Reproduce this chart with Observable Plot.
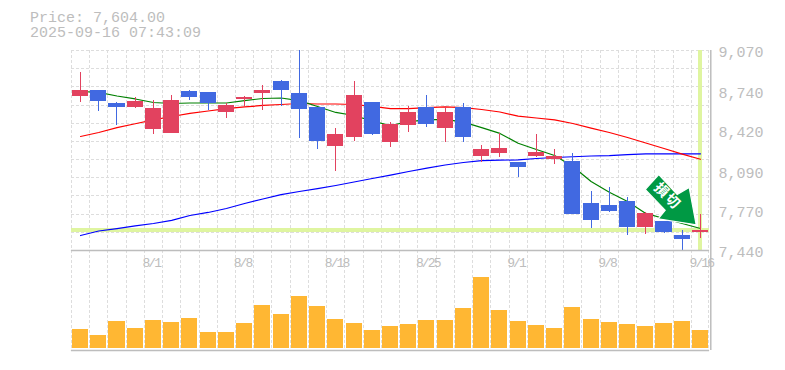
<!DOCTYPE html>
<html lang="ja">
<head>
<meta charset="utf-8">
<script src="https://cdn.jsdelivr.net/npm/d3@7"></script>
<script src="https://cdn.jsdelivr.net/npm/@observablehq/plot@0.6"></script>
<style>
  html, body { margin: 0; padding: 0; background: #fff; }
  #wrap { position: relative; width: 785px; height: 370px; overflow: hidden; }
  #title { position: absolute; left: 30px; top: 11px; font: 15px/15px "Liberation Mono", monospace; color: #bdbdbd; white-space: pre; }
  #price, #volume { position: absolute; left: 0; }
  #price { top: 0; }
  #volume { top: 240px; }
  svg { background: transparent !important; overflow: visible; }
  #price g[aria-label="text"] { letter-spacing: 1.5px; }
  #volume g[aria-label="text"] { letter-spacing: -1.9px; }
</style>
</head>
<body>
<div id="wrap">
  <div id="title"></div>
  <div id="price"></div>
  <div id="volume"></div>
</div>
<script>
const titleLines = ["Price: 7,604.00", "2025-09-16 07:43:09"];
const dates = ["7/28","7/29","7/30","7/31","8/1","8/4","8/5","8/6","8/7","8/8","8/12","8/13","8/14","8/15","8/18","8/19","8/20","8/21","8/22","8/25","8/26","8/27","8/28","8/29","9/1","9/2","9/3","9/4","9/5","9/8","9/9","9/10","9/11","9/12","9/16"];
const tickDates = ["8/1","8/8","8/18","8/25","9/1","9/8","9/16"];
const priceTicks = [7440,7770,8090,8420,8740,9070];

const open  = [8695,8744,8638,8605,8426,8394,8736,8728,8565,8671,8720,8817,8720,8605,8288,8361,8646,8320,8459,8605,8434,8605,8206,8231,8157,8206,8182,8165,7823,7807,7839,7627,7676,7562,7587];
const close = [8744,8654,8605,8654,8597,8662,8687,8638,8622,8687,8744,8744,8589,8328,8385,8703,8385,8467,8565,8467,8565,8361,8263,8271,8116,8239,8206,7733,7685,7758,7627,7742,7587,7530,7604];
const high  = [8891,8744,8646,8687,8662,8703,8744,8728,8638,8695,8785,8826,9070,8605,8434,8817,8646,8483,8614,8703,8614,8638,8296,8394,8157,8385,8263,8231,7921,7953,7872,7750,7676,7603,7733];
const low   = [8649,8573,8459,8597,8385,8394,8662,8581,8516,8614,8581,8614,8353,8263,8084,8328,8377,8279,8402,8442,8320,8320,8157,8198,8035,8198,8141,7733,7619,7750,7562,7570,7579,7440,7538];

const maShort = [8736,8728,8699,8675,8646,8638,8642,8642,8642,8662,8679,8683,8662,8614,8565,8540,8495,8459,8491,8504,8508,8486,8442,8394,8314,8263,8214,8125,8002,7915,7839,7742,7701,7660,7619];
const maMid   = [8369,8402,8442,8473,8504,8532,8557,8577,8597,8610,8622,8630,8638,8634,8634,8630,8614,8597,8597,8605,8610,8605,8589,8569,8535,8520,8504,8475,8438,8402,8361,8316,8271,8226,8184];
const maLong  = [7562,7599,7619,7640,7660,7685,7725,7750,7782,7823,7860,7896,7921,7945,7970,7998,8027,8055,8084,8112,8137,8157,8173,8176,8179,8190,8198,8204,8210,8214,8222,8228,8228,8228,8228];
const volume  = [1900,1300,2700,2000,2800,2600,3000,1600,1600,2500,4300,3400,5200,4200,2900,2500,1800,2200,2400,2800,2800,4000,7100,3800,2700,2300,2000,4100,2900,2600,2400,2200,2500,2700,1800];

const lastPrice = 7604;
const signalText = "損切";

const RED = "#e2425f", BLUE = "#4169e1", ORANGE = "#ffb733", GRID = "#dddddd", AXIS = "#bdbdbd", HILITE = "#dff5a0", ARROW = "#009944";
const MONO = '"Liberation Mono", monospace';

document.getElementById("title").textContent = titleLines.join("\n");

const xScale = {type: "band", domain: dates, paddingInner: 0.12, paddingOuter: 0.06, round: false, axis: null};
const margins = {width: 785, marginLeft: 70.9, marginRight: 75.9};
const halfStep = 9.12;
const last = dates[dates.length - 1];
const idx = d3.range(dates.length);
const crisp = {shapeRendering: "crispEdges"};

function gridX() {
  return [
    Plot.ruleX(dates, {x: d => d, dx: -halfStep, stroke: GRID, strokeDasharray: "3,2", ...crisp}),
    Plot.ruleX([last], {x: d => d, dx: halfStep - 1, stroke: GRID, strokeDasharray: "3,2", ...crisp})
  ];
}
function border() {
  return Plot.ruleX([last], {x: d => d, dx: 10.3, stroke: AXIS, strokeWidth: 1.5});
}

const arrowSymbol = {
  draw(c) {
    c.moveTo(-41.7, -55.9);
    c.lineTo(-23.3, -35.9);
    c.lineTo(-11.3, -42.9);
    c.lineTo(-4.3, -5.6);
    c.lineTo(-42.3, -11.6);
    c.lineTo(-35.3, -20.2);
    c.lineTo(-55.3, -40.9);
    c.closePath();
  }
};

const gridPrices = d3.range(12).map(i => 7440 + i * (9070 - 7440) / 11);

const pricePlot = Plot.plot({
  ...margins,
  height: 270,
  marginTop: 50,
  marginBottom: 20,
  x: xScale,
  y: {domain: [7440, 9070], axis: null},
  marks: [
    Plot.ruleY(gridPrices, {y: d => d, stroke: GRID, strokeDasharray: "3,2", ...crisp}),
    ...gridX(),
    Plot.ruleY([lastPrice], {y: d => d, stroke: HILITE, strokeWidth: 4, ...crisp}),
    Plot.ruleX([last], {x: d => d, stroke: HILITE, strokeWidth: 4, ...crisp}),
    border(),
    Plot.line(idx, {x: i => dates[i], y: i => maLong[i], stroke: "#0000ff", strokeWidth: 1.2}),
    Plot.line(idx, {x: i => dates[i], y: i => maMid[i], stroke: "#ff0000", strokeWidth: 1.2}),
    Plot.line(idx, {x: i => dates[i], y: i => maShort[i], stroke: "#008000", strokeWidth: 1.2}),
    Plot.ruleX(idx, {x: i => dates[i], y1: i => low[i], y2: i => high[i], stroke: i => close[i] >= open[i] ? RED : BLUE, strokeWidth: 1, ...crisp}),
    Plot.barY(idx, {x: i => dates[i], y1: i => open[i], y2: i => close[i], fill: i => close[i] >= open[i] ? RED : BLUE, ...crisp}),
    Plot.dot([last], {x: d => d, y: () => lastPrice, symbol: () => arrowSymbol, fill: ARROW, stroke: "#ffffff", strokeWidth: 1.2}),
    Plot.text([signalText], {x: () => last, y: () => lastPrice, text: d => d, rotate: 45, dx: -33, dy: -34, fill: "#ffffff", fontSize: 14, fontWeight: "bold", fontFamily: '"Noto Sans CJK JP", sans-serif'}),
    Plot.axisY({anchor: "right", ticks: priceTicks, tickFormat: d3.format(","), tickSize: 0, tickPadding: 9, fontSize: 15, fontFamily: MONO, color: AXIS, fill: AXIS, dy: 2, label: null, textAnchor: "start"})
  ]
});
document.getElementById("price").append(pricePlot);

const volumePlot = Plot.plot({
  ...margins,
  height: 130,
  marginTop: 10,
  marginBottom: 20,
  x: xScale,
  y: {domain: [-200, 9800], axis: null},
  marks: [
    ...gridX(),
    Plot.barY(idx, {x: i => dates[i], y1: () => 0, y2: i => volume[i], fill: ORANGE, ...crisp}),
    Plot.ruleY([9800, -200], {y: d => d, stroke: AXIS, strokeWidth: 1.5}),
    border(),
    Plot.text(tickDates, {x: d => d, y: () => 8600, text: d => d, textAnchor: "start", dx: -11, fill: AXIS, fontSize: 13, fontFamily: MONO})
  ]
});
document.getElementById("volume").append(volumePlot);
</script>
</body>
</html>
